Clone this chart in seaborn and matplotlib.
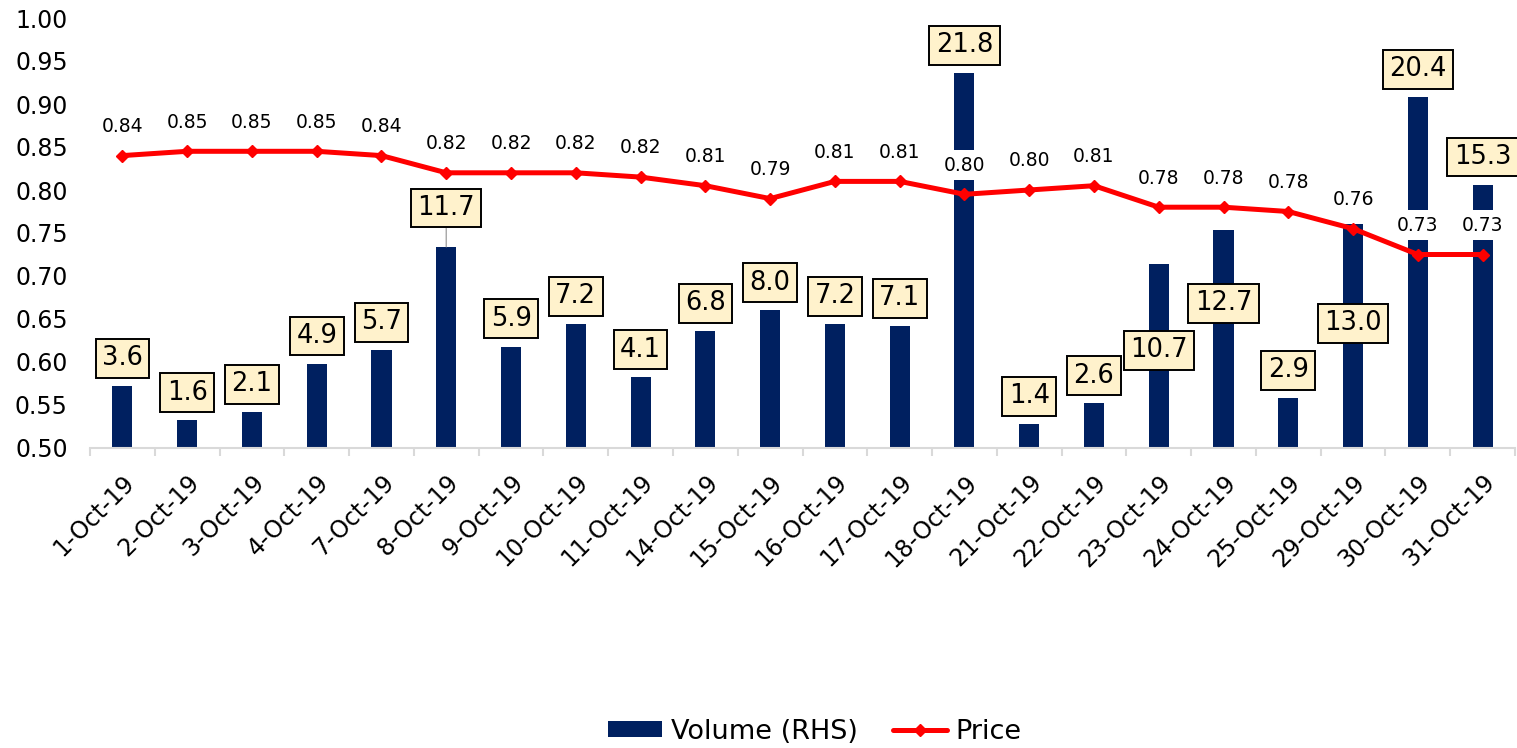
import numpy as np
import pandas as pd
import matplotlib
matplotlib.use("Agg")
import matplotlib.pyplot as plt
import seaborn as sns
from matplotlib.patches import Patch
from matplotlib.lines import Line2D
from matplotlib.ticker import FormatStrFormatter

dates = ["1-Oct-19", "2-Oct-19", "3-Oct-19", "4-Oct-19", "7-Oct-19", "8-Oct-19",
         "9-Oct-19", "10-Oct-19", "11-Oct-19", "14-Oct-19", "15-Oct-19", "16-Oct-19",
         "17-Oct-19", "18-Oct-19", "21-Oct-19", "22-Oct-19", "23-Oct-19", "24-Oct-19",
         "25-Oct-19", "29-Oct-19", "30-Oct-19", "31-Oct-19"]
volume = [3.6, 1.6, 2.1, 4.9, 5.7, 11.7, 5.9, 7.2, 4.1, 6.8, 8.0, 7.2, 7.1, 21.8,
          1.4, 2.6, 10.7, 12.7, 2.9, 13.0, 20.4, 15.3]
price = [0.840, 0.845, 0.845, 0.845, 0.840, 0.820, 0.820, 0.820, 0.815, 0.805, 0.790,
         0.810, 0.810, 0.795, 0.800, 0.805, 0.780, 0.780, 0.775, 0.755, 0.725, 0.725]

# layout-only: label centre (in volume units) for labels moved off the bar top
label_moves = {5: 13.95, 16: 5.67, 17: 8.42, 19: 7.25}
leader_lines = {5}

BAR_C = "#002060"
LINE_C = "#FF0000"
BOX_FC = "#FFF2CC"

sns.set_theme(style="white")
plt.rcParams["font.family"] = ["DejaVu Sans"]
plt.rcParams["text.color"] = "black"

n = len(dates)
W, H = 1517, 748
fig = plt.figure(figsize=(W / 100, H / 100), dpi=100)
ax = fig.add_axes([90 / W, 1 - 448 / H, 1425 / W, 430 / H])
ax2 = ax.twinx()

df = pd.DataFrame({"date": dates, "volume": volume, "price": price, "pos": np.arange(n)})

sns.barplot(data=df, x="date", y="volume", ax=ax2, color=BAR_C, width=0.31,
            saturation=1, linewidth=0)
sns.lineplot(data=df, x="pos", y="price", ax=ax, color=LINE_C, linewidth=3.6,
             marker="D", markersize=6.5, markeredgecolor=LINE_C, markeredgewidth=1)

ax.set_zorder(ax2.get_zorder() + 1)
ax.patch.set_visible(False)

ax.set_xlim(-0.5, n - 0.5)
ax.set_ylim(0.5, 1.0)
ax2.set_ylim(0, 25)

# secondary axis hidden
ax2.set_yticks([])
ax2.set_ylabel("")
ax2.set_xlabel("")
for s in ax2.spines.values():
    s.set_visible(False)

for s in ["left", "top", "right"]:
    ax.spines[s].set_visible(False)
ax.spines["bottom"].set_color("#D9D9D9")
ax.spines["bottom"].set_linewidth(1.5)

ax.set_xticks(np.arange(n))
ax.set_xticklabels(dates, rotation=45, ha="right", va="top", rotation_mode="anchor",
                   fontsize=17, color="black")
ax.set_xticks(np.arange(-0.5, n, 1.0), minor=True)
ax.tick_params(axis="x", which="major", bottom=True, length=0, pad=16)
ax.tick_params(axis="x", which="minor", bottom=True, length=6, width=1.5, color="#D9D9D9")

ax.set_yticks(np.arange(0.5, 1.0001, 0.05))
ax.yaxis.set_major_formatter(FormatStrFormatter("%.2f"))
ax.tick_params(axis="y", left=False, length=0, pad=16, labelsize=17, labelcolor="black")
ax.set_xlabel("")
ax.set_ylabel("")


def fmt2(v):
    return f"{np.floor(v * 100 + 0.5 + 1e-9) / 100:.2f}"


for i, p in enumerate(price):
    ax.annotate(fmt2(p), xy=(i, p), xytext=(0, 21), textcoords="offset points",
                ha="center", va="center", fontsize=13.5, color="black",
                bbox=dict(boxstyle="square,pad=0.3", fc="white", ec="none"), zorder=5)

for i, v in enumerate(volume):
    box = dict(boxstyle="square,pad=0.25", fc=BOX_FC, ec="black", lw=1.4)
    if i in label_moves:
        kw = {}
        if i in leader_lines:
            kw["arrowprops"] = dict(arrowstyle="-", color="#A6A6A6", lw=1,
                                    shrinkA=0, shrinkB=0)
        ax.annotate(f"{v:.1f}", xy=(i, v), xycoords=ax2.transData,
                    xytext=(i, label_moves[i]), textcoords=ax2.transData,
                    ha="center", va="center", fontsize=18.5, color="black",
                    bbox=box, zorder=6, **kw)
    else:
        ax.annotate(f"{v:.1f}", xy=(i, v), xycoords=ax2.transData,
                    xytext=(0, 20), textcoords="offset points",
                    ha="center", va="center", fontsize=18.5, color="black",
                    bbox=box, zorder=6)

handles = [Patch(facecolor=BAR_C, edgecolor="none", label="Volume (RHS)"),
           Line2D([], [], color=LINE_C, lw=3.6, marker="D", markersize=6.5,
                  label="Price")]
fig.legend(handles=handles, loc="center", bbox_to_anchor=(0.537, 0.022), ncol=2,
           frameon=False, fontsize=19.5, handlelength=2.0, handleheight=0.55,
           columnspacing=1.3, handletextpad=0.3, labelcolor="black")

fig.savefig("out.png", dpi=100)
